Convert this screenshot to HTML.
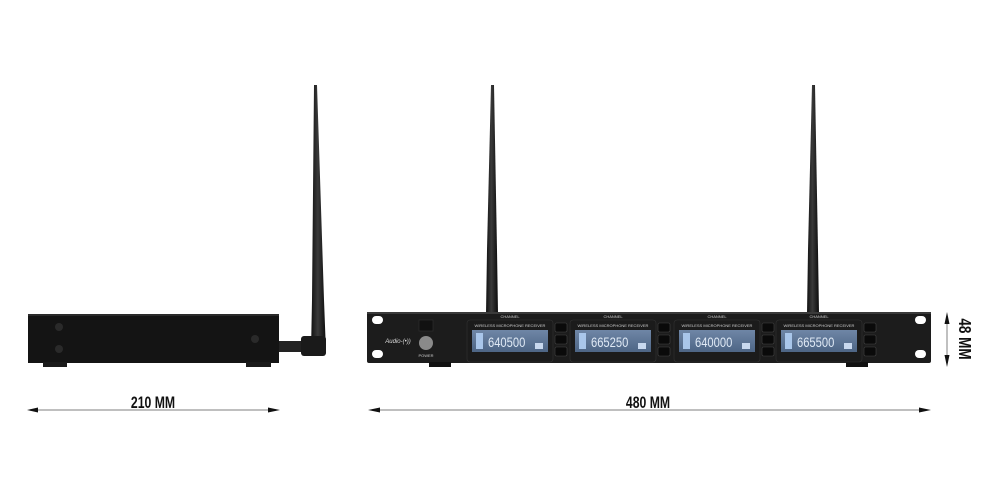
<!DOCTYPE html>
<html><head><meta charset="utf-8"><style>
html,body{margin:0;padding:0;background:#fff;}
svg{display:block}
.t{font-family:"Liberation Sans",sans-serif;font-weight:bold;fill:#111;}
.s{font-family:"Liberation Sans",sans-serif;fill:#ccc;font-size:4px}
.d{font-family:"Liberation Sans",sans-serif;fill:#dfe9f5;}
</style></head><body>
<svg width="1000" height="500" viewBox="0 0 1000 500" xmlns="http://www.w3.org/2000/svg">
<defs>
<linearGradient id="ant" x1="0" x2="1"><stop offset="0" stop-color="#111"/><stop offset=".45" stop-color="#3a3a3a"/><stop offset="1" stop-color="#0c0c0c"/></linearGradient>
<linearGradient id="scr" x1="0" y1="0" x2="0" y2="1"><stop offset="0" stop-color="#6f86a6"/><stop offset="1" stop-color="#4d6585"/></linearGradient>
<g id="disp">
<rect x="0" y="0" width="86" height="42" rx="3" fill="#1b1b1b" stroke="#333" stroke-width="0.6"/>
<text x="43" y="-2" class="s" text-anchor="middle">CHANNEL</text>
<text x="43" y="7" class="s" text-anchor="middle">WIRELESS MICROPHONE RECEIVER</text>
<rect x="5" y="10" width="76" height="22" fill="url(#scr)"/>
<rect x="9" y="13" width="7" height="16" fill="#a9c6ea"/>
<rect x="68" y="23" width="8" height="6" fill="#c8d8ee"/>
<rect x="88" y="3" width="12" height="9" rx="1.5" fill="#0a0a0a" stroke="#444" stroke-width=".6"/>
<rect x="88" y="15" width="12" height="9" rx="1.5" fill="#0a0a0a" stroke="#444" stroke-width=".6"/>
<rect x="88" y="27" width="12" height="9" rx="1.5" fill="#0a0a0a" stroke="#444" stroke-width=".6"/>
</g>
</defs>
<!-- side view -->
<polygon points="314,85 317,85 324,300 326,352 311,352 312,300" fill="url(#ant)"/>
<rect x="279" y="341" width="28" height="11" fill="#222"/>
<rect x="301" y="336" width="25" height="20" rx="3" fill="#1a1a1a"/>
<rect x="28" y="314" width="251" height="49" fill="#141414"/>
<rect x="28" y="314" width="251" height="2" fill="#2a2a2a"/>
<rect x="43" y="362" width="24" height="5" fill="#1a1a1a"/>
<rect x="246" y="362" width="25" height="5" fill="#1a1a1a"/>
<circle cx="59" cy="327" r="4" fill="#2a2a2a"/><circle cx="59" cy="349" r="4" fill="#2a2a2a"/><circle cx="255" cy="339" r="4" fill="#2a2a2a"/>
<!-- front antennas -->
<polygon points="491,85 494,85 497,250 498,314 486,314 487,250" fill="url(#ant)"/>
<polygon points="812,85 815,85 818,250 819,314 807,314 808,250" fill="url(#ant)"/>
<!-- front panel -->
<rect x="367" y="312" width="564" height="51" rx="2" fill="#1c1c1c"/>
<rect x="367" y="312" width="564" height="2" fill="#3a3a3a"/>
<rect x="372" y="316" width="11" height="8" rx="4" fill="#fff"/>
<rect x="372" y="350" width="11" height="8" rx="4" fill="#fff"/>
<rect x="915" y="316" width="11" height="8" rx="4" fill="#fff"/>
<rect x="915" y="350" width="11" height="8" rx="4" fill="#fff"/>
<rect x="429" y="362" width="22" height="5" fill="#111"/>
<rect x="846" y="362" width="22" height="5" fill="#111"/>
<rect x="419" y="320" width="14" height="11" fill="#111" stroke="#333" stroke-width=".6"/>
<circle cx="426" cy="343" r="7" fill="#8a8a8a"/>
<text x="426" y="357" class="s" text-anchor="middle">POWER</text>
<text x="398" y="343" class="s" style="font-size:6px;font-style:italic;fill:#ddd" text-anchor="middle">Audio-(•))</text>
<use href="#disp" x="467" y="320"/>
<use href="#disp" x="570" y="320"/>
<use href="#disp" x="674" y="320"/>
<use href="#disp" x="776" y="320"/>
<text class="d" font-size="14" transform="translate(488,347) scale(0.8,1)">640500</text>
<text class="d" font-size="14" transform="translate(591,347) scale(0.8,1)">665250</text>
<text class="d" font-size="14" transform="translate(695,347) scale(0.8,1)">640000</text>
<text class="d" font-size="14" transform="translate(797,347) scale(0.8,1)">665500</text>
<!-- dimensions -->
<g stroke="#aaa" stroke-width="1.5"><line x1="30" y1="410" x2="276" y2="410"/><line x1="372" y1="410" x2="926" y2="410"/><line x1="947" y1="316" x2="947" y2="363"/></g>
<g fill="#111">
<polygon points="27,410 38,407.5 38,412.5"/><polygon points="280,410 268,407.5 268,412.5"/>
<polygon points="368,410 380,407.5 380,412.5"/><polygon points="931,410 919,407.5 919,412.5"/>
<polygon points="947,312 944.5,324 949.5,324"/><polygon points="947,367 944.5,355 949.5,355"/>
</g>
<text class="t" font-size="17" transform="translate(153,408) scale(0.72,1)" text-anchor="middle">210 MM</text>
<text class="t" font-size="17" transform="translate(648,408) scale(0.72,1)" text-anchor="middle">480 MM</text>
<text class="t" font-size="18" transform="translate(959,339) rotate(90) scale(0.75,1)" text-anchor="middle">48 MM</text>
</svg>
</body></html>
